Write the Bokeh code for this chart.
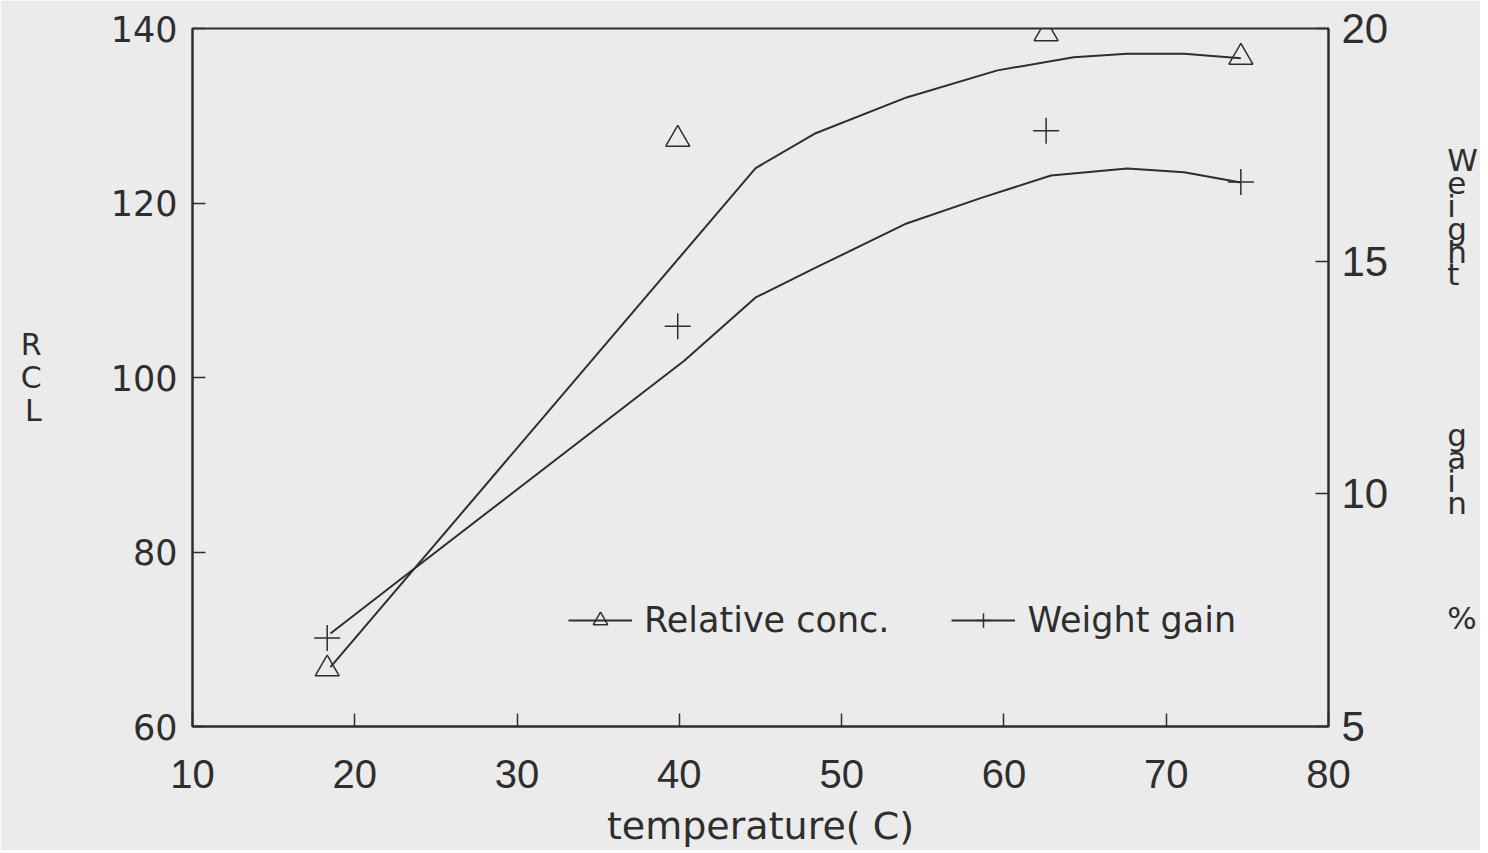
from bokeh.plotting import figure
from bokeh.models import Range1d, LinearAxis, FixedTicker, Legend, LegendItem
from bokeh.embed import file_html
from bokeh.resources import INLINE

# ---- data ----
temperature = [18.3, 39.9, 62.6, 74.6]
relative_conc = [66.6, 127.3, 139.4, 136.7]
weight_gain = [6.9, 13.6, 17.8, 16.7]

rel_fit_t = [18.5, 44.7, 48.4, 54.0, 59.6, 64.3, 67.6, 71.1, 74.6]
rel_fit = [66.8, 124.0, 128.0, 132.1, 135.2, 136.7, 137.1, 137.1, 136.6]
wg_fit_t = [18.5, 23.1, 40.3, 44.7, 48.4, 54.0, 58.7, 62.9, 67.6, 71.1, 74.6]
wg_fit = [7.0, 8.24, 12.86, 14.22, 14.86, 15.81, 16.37, 16.84, 16.99, 16.91, 16.69]

x_ticks = [10, 20, 30, 40, 50, 60, 70, 80]
left_ticks = [60, 80, 100, 120, 140]
right_ticks = [5, 10, 15, 20]

BG = "#ebebeb"
INK = "#2e2e2e"

p = figure(frame_width=1136, frame_height=698,
           x_range=Range1d(10, 80), y_range=Range1d(60, 140),
           output_backend="svg", toolbar_location=None,
           min_border_left=192, min_border_top=28, min_border_right=140, min_border_bottom=118,
           background_fill_color=BG, border_fill_color=BG,
           outline_line_color=INK, outline_line_width=2)
p.grid.visible = False
p.extra_y_ranges = {"wg": Range1d(5, 20)}

def style(ax, font, size, standoff):
    ax.axis_line_color = INK
    ax.axis_line_width = 2
    ax.major_tick_in = 13
    ax.major_tick_out = 0
    ax.major_tick_line_color = INK
    ax.major_tick_line_width = 1.5
    ax.minor_tick_line_color = None
    ax.major_label_text_font = font
    ax.major_label_text_font_size = size
    ax.major_label_text_color = INK
    ax.major_label_standoff = standoff

def title_style(ax, font, size):
    ax.axis_label_text_font = font
    ax.axis_label_text_font_size = size
    ax.axis_label_text_font_style = "normal"
    ax.axis_label_text_color = INK

xa = p.xaxis[0]
xa.ticker = FixedTicker(ticks=x_ticks)
style(xa, "Liberation Sans", "40px", 33)
xa.axis_label = "temperature( C)"
title_style(xa, "DejaVu Sans", "38px")
xa.axis_label_standoff = 13

ya = p.yaxis[0]
ya.ticker = FixedTicker(ticks=left_ticks)
style(ya, "DejaVu Sans", "35px", 15)
ya.axis_label = "R\nC\nL"
ya.axis_label_orientation = "horizontal"
title_style(ya, "DejaVu Sans", "30px")
ya.axis_label_text_line_height = 0.94
ya.axis_label_text_align = "center"
ya.axis_label_standoff = 66

ra = LinearAxis(y_range_name="wg", ticker=FixedTicker(ticks=right_ticks))
style(ra, "Liberation Sans", "42px", 13)
ra.axis_label = "\nW\ne\ni\ng\nh\nt\n\n\n\n\n\n\ng\na\ni\nn\n\n\n\n\n%"
ra.axis_label_orientation = "horizontal"
title_style(ra, "DejaVu Sans", "31px")
ra.axis_label_text_line_height = 0.636
ra.axis_label_text_align = "center"
ra.axis_label_standoff = 56
p.add_layout(ra, "right")

# fitted curves
rel_line = p.line(rel_fit_t, rel_fit, line_color=INK, line_width=2)
wg_line = p.line(wg_fit_t, wg_fit, line_color=INK, line_width=2, y_range_name="wg")

# measured points
rel_pts = p.scatter(temperature, relative_conc, marker="triangle", size=24,
                    fill_color=None, line_color=INK, line_width=1.5)
wg_pts = p.scatter(temperature, weight_gain, marker="cross", size=26,
                   line_color=INK, line_width=1.5, y_range_name="wg")

legend = Legend(items=[LegendItem(label="Relative conc.", renderers=[rel_line, rel_pts]),
                       LegendItem(label="Weight gain", renderers=[wg_line, wg_pts])],
                orientation="horizontal", location=(376, 86),
                background_fill_alpha=0, border_line_alpha=0,
                label_text_font="DejaVu Sans", label_text_font_size="35px",
                label_text_color=INK,
                glyph_width=64, glyph_height=36, label_standoff=12,
                spacing=62, padding=0, margin=0)
p.add_layout(legend, "center")

open("out.html", "w").write(file_html(p, INLINE))
